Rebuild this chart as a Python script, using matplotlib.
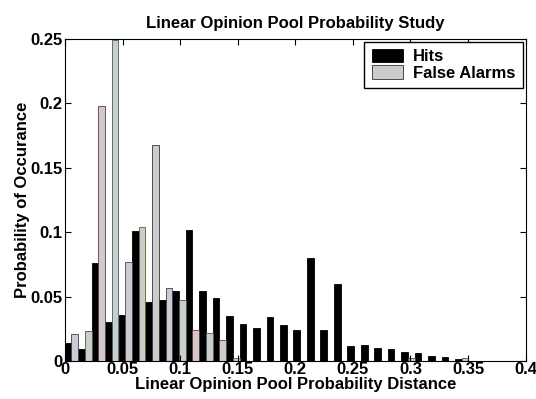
import numpy as np
import matplotlib
matplotlib.use("Agg")
import matplotlib.pyplot as plt

# Font: bold Arial-like
plt.rcParams['font.family'] = ['Liberation Sans', 'DejaVu Sans']
plt.rcParams['font.weight'] = 'bold'

# Bin centers of the histogram (probability distance)
bin_centers = [0.0055, 0.0172, 0.0289, 0.0406, 0.0523, 0.0640, 0.0756, 0.0873,
               0.0990, 0.1107, 0.1224, 0.1341, 0.1458, 0.1575, 0.1692, 0.1809,
               0.1925, 0.2042, 0.2159, 0.2276, 0.2393, 0.2510, 0.2627, 0.2744,
               0.2861, 0.2978, 0.3094, 0.3211, 0.3328, 0.3445]

# Probability of occurance for hits
hits = [0.014, 0.009, 0.076, 0.030, 0.036, 0.101, 0.046, 0.047,
        0.054, 0.102, 0.054, 0.049, 0.035, 0.029, 0.026, 0.034,
        0.028, 0.024, 0.080, 0.024, 0.060, 0.012, 0.0126, 0.0098,
        0.0093, 0.0072, 0.0061, 0.0036, 0.0028, 0.0015]

# Probability of occurance for false alarms
false_alarms = [0.021, 0.023, 0.198, 0.249, 0.077, 0.104, 0.168, 0.057,
                0.047, 0.024, 0.022, 0.0165, 0.002, 0.0, 0.0, 0.0,
                0.0, 0.0, 0.0, 0.0, 0.0, 0.0, 0.0, 0.0,
                0.0, 0.002, 0.0, 0.0, 0.0, 0.002]

x = np.array(bin_centers)
w = 0.0058

# muddy edge colours seen on the grey bars
edge_cycle = ["#3a3a6a", "#3f5f3f", "#6a3030", "#3f6262", "#553a60", "#5f5f30", "#333333"]
fa_edges = [edge_cycle[i % len(edge_cycle)] for i in range(len(false_alarms))]

fig = plt.figure(figsize=(5.36, 3.99), dpi=100)
ax = fig.add_axes([0.1213, 0.0952, 0.8594, 0.8070])

ax.bar(x - w / 2, hits, width=w, color="black", edgecolor="black", linewidth=0.6, label="Hits")
ax.bar(x + w / 2, false_alarms, width=w, color="#cccccc", edgecolor=fa_edges, linewidth=0.6, label="False Alarms")

ax.set_xlim(0, 0.4)
ax.set_ylim(0, 0.25)
ax.set_xticks([0, 0.05, 0.1, 0.15, 0.2, 0.25, 0.3, 0.35, 0.4])
ax.set_xticklabels(["0", "0.05", "0.1", "0.15", "0.2", "0.25", "0.3", "0.35", "0.4"])
ax.set_yticks([0, 0.05, 0.1, 0.15, 0.2, 0.25])
ax.set_yticklabels(["0", "0.05", "0.1", "0.15", "0.2", "0.25"])
ax.tick_params(direction="in", top=True, right=True, length=4, labelsize=12, pad=2)
ax.tick_params(axis="x", pad=1)
for s in ax.spines.values():
    s.set_linewidth(0.8)

ax.set_title("Linear Opinion Pool Probability Study", fontsize=12, fontweight="bold", pad=8)
ax.set_xlabel("Linear Opinion Pool Probability Distance", fontsize=12, fontweight="bold", labelpad=0)
ax.set_ylabel("Probability of Occurance", fontsize=12, fontweight="bold", labelpad=0)

leg = ax.legend(loc="upper right", fontsize=12, frameon=True, fancybox=False,
                edgecolor="black", framealpha=1, borderaxespad=0.15,
                handlelength=1.9, handleheight=0.85, handletextpad=0.6,
                labelspacing=0.05, borderpad=0.45)
leg.get_frame().set_linewidth(1.0)
leg.legend_handles[1].set_edgecolor("#333333")

fig.savefig("out.png", dpi=100)
